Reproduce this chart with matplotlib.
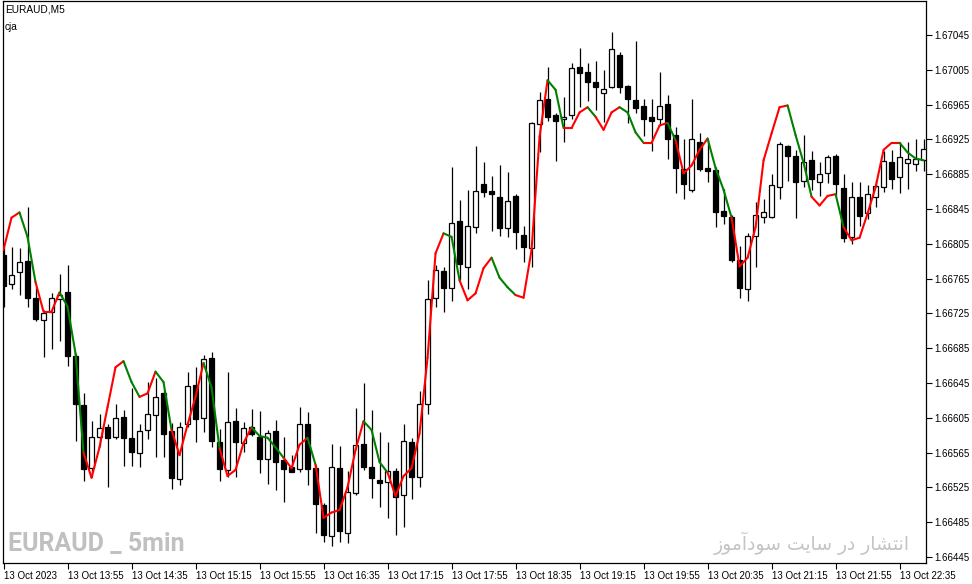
import matplotlib
matplotlib.use("Agg")
import matplotlib.pyplot as plt
from matplotlib.collections import LineCollection
import numpy as np

# --- data: EURAUD M5, 13 Oct 2023 13:15 .. 22:50 ---
opens = [
    1.66792, 1.66759, 1.66772, 1.66785, 1.66743, 1.66717, 1.66727, 1.66741, 1.66749, 1.66676,
    1.66620, 1.66547, 1.66583, 1.66594, 1.66583, 1.66606, 1.66582, 1.66565, 1.66591, 1.66608,
    1.66633, 1.66590, 1.66535, 1.66598, 1.66643, 1.66605, 1.66674, 1.66577, 1.66545, 1.66601,
    1.66576, 1.66594, 1.66583, 1.66558, 1.66590, 1.66556, 1.66548, 1.66546, 1.66598, 1.66547,
    1.66505, 1.66469, 1.66547, 1.66473, 1.66519, 1.66575, 1.66548, 1.66533, 1.66531, 1.66544,
    1.66516, 1.66577, 1.66537, 1.66621, 1.66743, 1.66774, 1.66754, 1.66831, 1.66778, 1.66824,
    1.66874, 1.66866, 1.66859, 1.66823, 1.66860, 1.66815, 1.66800, 1.66943, 1.66972, 1.66953,
    1.66948, 1.66953, 1.67008, 1.67002, 1.66991, 1.66978, 1.66985, 1.67022, 1.66986, 1.66970,
    1.66963, 1.66951, 1.66948, 1.66966, 1.66930, 1.66891, 1.66867, 1.66922, 1.66892, 1.66890,
    1.66843, 1.66836, 1.66786, 1.66753, 1.66814, 1.66836, 1.66836, 1.66870, 1.66917, 1.66906,
    1.66877, 1.66901, 1.66876, 1.66886, 1.66906, 1.66869, 1.66813, 1.66859, 1.66840, 1.66859,
    1.66870, 1.66899, 1.66882, 1.66898, 1.66897, 1.66901]
highs = [
    1.66801, 1.66801, 1.66800, 1.66847, 1.66755, 1.66729, 1.66748, 1.66770, 1.66781, 1.66678,
    1.66633, 1.66601, 1.66609, 1.66598, 1.66621, 1.66614, 1.66639, 1.66598, 1.66646, 1.66651,
    1.66638, 1.66599, 1.66600, 1.66658, 1.66663, 1.66677, 1.66681, 1.66592, 1.66658, 1.66616,
    1.66600, 1.66615, 1.66613, 1.66591, 1.66602, 1.66583, 1.66562, 1.66617, 1.66612, 1.66551,
    1.66507, 1.66575, 1.66573, 1.66544, 1.66616, 1.66645, 1.66614, 1.66589, 1.66577, 1.66547,
    1.66598, 1.66582, 1.66636, 1.66763, 1.66781, 1.66778, 1.66893, 1.66855, 1.66867, 1.66917,
    1.66899, 1.66883, 1.66895, 1.66887, 1.66862, 1.66826, 1.66945, 1.66980, 1.67008, 1.66955,
    1.66974, 1.67013, 1.67030, 1.67013, 1.67015, 1.67005, 1.67048, 1.67025, 1.66987, 1.67038,
    1.66972, 1.66972, 1.67003, 1.66976, 1.66939, 1.66926, 1.66972, 1.66932, 1.66926, 1.66893,
    1.66868, 1.66838, 1.66803, 1.66817, 1.66853, 1.66857, 1.66885, 1.66922, 1.66919, 1.66913,
    1.66930, 1.66912, 1.66899, 1.66907, 1.66908, 1.66885, 1.66876, 1.66876, 1.66872, 1.66878,
    1.66912, 1.66913, 1.66922, 1.66922, 1.66925, 1.66925]
lows = [
    1.66732, 1.66753, 1.66746, 1.66732, 1.66716, 1.66675, 1.66684, 1.66693, 1.66664, 1.66578,
    1.66532, 1.66537, 1.66573, 1.66525, 1.66581, 1.66550, 1.66550, 1.66548, 1.66581, 1.66560,
    1.66560, 1.66523, 1.66528, 1.66594, 1.66577, 1.66589, 1.66571, 1.66532, 1.66537, 1.66537,
    1.66566, 1.66584, 1.66542, 1.66529, 1.66522, 1.66508, 1.66543, 1.66543, 1.66528, 1.66473,
    1.66462, 1.66458, 1.66462, 1.66461, 1.66516, 1.66545, 1.66513, 1.66502, 1.66490, 1.66470,
    1.66479, 1.66512, 1.66525, 1.66609, 1.66732, 1.66727, 1.66739, 1.66763, 1.66753, 1.66817,
    1.66859, 1.66820, 1.66814, 1.66813, 1.66799, 1.66784, 1.66778, 1.66910, 1.66946, 1.66900,
    1.66922, 1.66949, 1.66962, 1.66969, 1.66959, 1.66945, 1.66984, 1.66978, 1.66944, 1.66955,
    1.66929, 1.66912, 1.66941, 1.66903, 1.66863, 1.66856, 1.66864, 1.66889, 1.66876, 1.66824,
    1.66828, 1.66784, 1.66743, 1.66739, 1.66778, 1.66829, 1.66835, 1.66856, 1.66877, 1.66835,
    1.66870, 1.66867, 1.66860, 1.66875, 1.66861, 1.66807, 1.66805, 1.66826, 1.66833, 1.66847,
    1.66864, 1.66868, 1.66863, 1.66868, 1.66889, 1.66889]
closes = [
    1.66756, 1.66769, 1.66784, 1.66743, 1.66718, 1.66725, 1.66743, 1.66746, 1.66676, 1.66621,
    1.66546, 1.66583, 1.66593, 1.66582, 1.66605, 1.66582, 1.66566, 1.66590, 1.66609, 1.66629,
    1.66586, 1.66536, 1.66594, 1.66641, 1.66604, 1.66673, 1.66578, 1.66546, 1.66600, 1.66577,
    1.66593, 1.66586, 1.66558, 1.66587, 1.66554, 1.66546, 1.66543, 1.66598, 1.66546, 1.66506,
    1.66470, 1.66548, 1.66475, 1.66520, 1.66574, 1.66548, 1.66536, 1.66530, 1.66544, 1.66514,
    1.66578, 1.66537, 1.66621, 1.66741, 1.66775, 1.66754, 1.66829, 1.66782, 1.66825, 1.66866,
    1.66864, 1.66862, 1.66823, 1.66854, 1.66818, 1.66801, 1.66944, 1.66970, 1.66951, 1.66946,
    1.66951, 1.67007, 1.67001, 1.66991, 1.66985, 1.66983, 1.67029, 1.66985, 1.66971, 1.66961,
    1.66948, 1.66946, 1.66963, 1.66926, 1.66892, 1.66874, 1.66925, 1.66891, 1.66889, 1.66841,
    1.66837, 1.66786, 1.66754, 1.66814, 1.66838, 1.66841, 1.66872, 1.66920, 1.66906, 1.66876,
    1.66899, 1.66880, 1.66885, 1.66905, 1.66874, 1.66812, 1.66859, 1.66837, 1.66862, 1.66871,
    1.66900, 1.66880, 1.66905, 1.66902, 1.66903, 1.66914]

# cja indicator values and the colour of each segment ending at that bar (r/g)
cja = [
    1.66798, 1.66835, 1.66841, 1.66813, 1.66761, 1.66727, 1.66727, 1.66749, 1.66733, 1.66679,
    1.66565, 1.66536, 1.66571, 1.66617, 1.66663, 1.66670, 1.66646, 1.66629, 1.66633, 1.66658,
    1.66646, 1.66591, 1.66562, 1.66597, 1.66629, 1.66668, 1.66640, 1.66570, 1.66538, 1.66545,
    1.66576, 1.66594, 1.66584, 1.66582, 1.66571, 1.66559, 1.66547, 1.66574, 1.66582, 1.66551,
    1.66490, 1.66496, 1.66499, 1.66525, 1.66568, 1.66601, 1.66591, 1.66554, 1.66542, 1.66515,
    1.66538, 1.66547, 1.66587, 1.66674, 1.66794, 1.66817, 1.66813, 1.66763, 1.66740, 1.66748,
    1.66777, 1.66789, 1.66766, 1.66755, 1.66746, 1.66743, 1.66798, 1.66928, 1.66993, 1.66982,
    1.66938, 1.66938, 1.66956, 1.66962, 1.66951, 1.66936, 1.66956, 1.66962, 1.66956, 1.66933,
    1.66921, 1.66921, 1.66941, 1.66944, 1.66924, 1.66886, 1.66895, 1.66913, 1.66926, 1.66892,
    1.66867, 1.66835, 1.66779, 1.66789, 1.66824, 1.66901, 1.66932, 1.66962, 1.66964, 1.66930,
    1.66898, 1.66859, 1.66849, 1.66860, 1.66862, 1.66824, 1.66809, 1.66812, 1.66840, 1.66870,
    1.66913, 1.66921, 1.66921, 1.66910, 1.66903, 1.66901]
cja_colors = ("rrggrrrggg" "rrrrrggrrg" "grrrrggrrr" "rggggrrrgr" "rrrrrgggrr"
              "rrrrrggrrr" "rgggrrrrgg" "rrrgrrrggg" "rrrgrrrrgg" "grrrrrrrgg"
              "grrrgrrrrr" "rrggg")

time_labels = ["13 Oct 2023", "13 Oct 13:55", "13 Oct 14:35", "13 Oct 15:15",
               "13 Oct 15:55", "13 Oct 16:35", "13 Oct 17:15", "13 Oct 17:55",
               "13 Oct 18:35", "13 Oct 19:15", "13 Oct 19:55", "13 Oct 20:35",
               "13 Oct 21:15", "13 Oct 21:55", "13 Oct 22:35"]
price_ticks = [1.66445 + 0.0004 * k for k in range(16)]

plt.rcParams['font.family'] = ['Liberation Sans', 'DejaVu Sans']

W, H = 972, 584
fig = plt.figure(figsize=(W / 100, H / 100), dpi=100)
ax = fig.add_axes([2.7 / W, 1 - 563 / H, (926 - 2.7) / W, (563 - 1) / H])

o = np.array(opens); c = np.array(closes)
hi = np.array(highs); lo = np.array(lows)
x = np.arange(len(o))

# wicks, then bodies
ax.vlines(x, lo, hi, color='black', linewidth=0.9, zorder=2)
bull = c >= o
body_lo = np.minimum(o, c)
body_h = np.maximum(np.abs(c - o), 0.000015)
ax.bar(x[bull], body_h[bull], bottom=body_lo[bull], width=0.6,
       facecolor='white', edgecolor='black', linewidth=0.9, zorder=3)
ax.bar(x[~bull], body_h[~bull], bottom=body_lo[~bull], width=0.6,
       facecolor='black', edgecolor='black', linewidth=0.9, zorder=3)

# cja line, two colours
segs = [[(i - 1, cja[i - 1]), (i, cja[i])] for i in range(1, len(cja))]
cols = ['#ff0000' if ch == 'r' else '#008000' for ch in cja_colors]
ax.add_collection(LineCollection(segs, colors=cols, linewidths=1.5,
                                 capstyle='round', zorder=4))

ax.set_xlim(-0.1, 115.3)
ax.set_ylim(1.66438, 1.670841)

ax.yaxis.tick_right()
ax.set_yticks(price_ticks)
ax.set_yticklabels([f"{v:.5f}" for v in price_ticks])
ax.set_xticks(np.arange(0, len(time_labels) * 8, 8))
ax.set_xticklabels(time_labels, ha='left')
ax.tick_params(axis='both', direction='out', length=4, width=0.8,
               labelsize=7, pad=2, colors='black')
for sp in ax.spines.values():
    sp.set_linewidth(0.9)

fig.text(5 / W, 1 - 10 / H, "EURAUD,M5", fontsize=7.3, va='center', ha='left')
fig.text(5 / W, 1 - 27 / H, "cja", fontsize=7.3, va='center', ha='left')

# watermarks
fig.text(8 / W, 1 - 544 / H, "EURAUD _ 5min", fontsize=18, fontweight='bold',
         family=['Roboto', 'DejaVu Sans'], color='#c0c0c0',
         va='center', ha='left', zorder=5)
# "انتشار در سایت سودآموز" written with Arabic presentation forms in visual order
fa = ("\ufeaf\ufeee\ufee3\ufe81\ufea9\ufeee\ufeb3 \ufe96\ufef3\ufe8e\ufeb3 "
      "\ufead\ufea9 \ufead\ufe8e\ufeb8\ufe98\ufee7\ufe8d")
fig.text(910 / W, 1 - 543 / H, fa, fontsize=13.5, family=['DejaVu Sans'],
         color='#c4c4c4', va='center', ha='right', zorder=5)

fig.savefig("out.png", dpi=100)
